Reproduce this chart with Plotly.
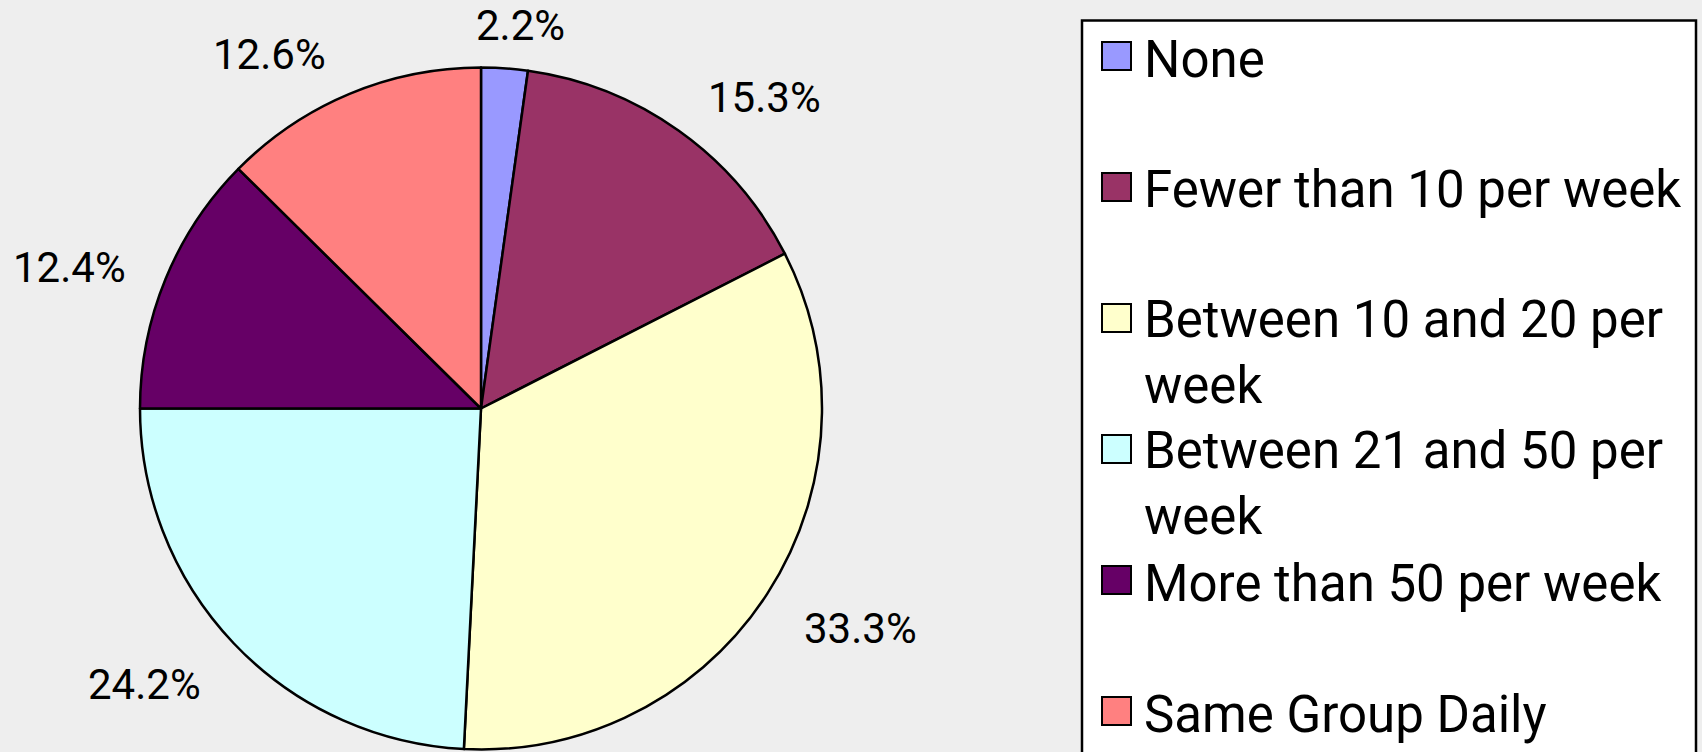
import math
import plotly.graph_objects as go

categories = ["None", "Fewer than 10 per week", "Between 10 and 20 per week",
              "Between 21 and 50 per week", "More than 50 per week", "Same Group Daily"]
legend_lines = ["None", "Fewer than 10 per week", "Between 10 and 20 per<br>week",
                "Between 21 and 50 per<br>week", "More than 50 per week", "Same Group Daily"]
values = [2.2, 15.3, 33.3, 24.2, 12.4, 12.6]
colors = ["#9999FF", "#993366", "#FFFFCC", "#CCFFFF", "#660066", "#FF8080"]

W, H = 1702, 752
cx, cy, r = 481, 408.5, 341

fig = go.Figure(go.Pie(
    labels=categories, values=values, sort=False, direction="clockwise", rotation=0,
    marker=dict(colors=colors, line=dict(color="black", width=2.5)),
    textinfo="none", showlegend=False, hoverinfo="label+percent",
    domain=dict(x=[(cx - r) / W, (cx + r) / W], y=[1 - (cy + r) / H, 1 - (cy - r) / H]),
))

annotations = []
# percentage labels placed outside each slice at its mid-angle
total = sum(values)
cum = 0.0
for v in values:
    frac = (cum + v / 2) / total
    cum += v
    th = 2 * math.pi * frac
    ux, uy = math.sin(th), -math.cos(th)
    sx = math.copysign(min(1.0, 3 * abs(ux)), ux)
    px = cx + (r + 30) * ux + 68 * sx
    py = cy + (r + 30) * uy + 20 * uy + 7
    annotations.append(dict(xref="paper", yref="paper", x=px / W, y=1 - py / H,
                            xanchor="center", yanchor="middle", showarrow=False,
                            text=f"{v:.1f}%", font=dict(family="Roboto", size=42, color="black")))

shapes = [dict(type="rect", xref="paper", yref="paper",
               x0=1082 / W, x1=1696 / W, y0=-0.05, y1=1 - 20.5 / H,
               fillcolor="white", line=dict(color="black", width=2.5), layer="below")]
row0, step = 56, 131
for i, (lab, col) in enumerate(zip(legend_lines, colors)):
    yc = row0 + step * i
    shapes.append(dict(type="rect", xref="paper", yref="paper",
                       x0=1102 / W, x1=1131 / W, y0=1 - (yc + 14) / H, y1=1 - (yc - 14) / H,
                       fillcolor=col, line=dict(color="black", width=2)))
    nlines = lab.count("<br>") + 1
    ty = yc + 3 if nlines == 1 else yc + 34
    annotations.append(dict(xref="paper", yref="paper", x=1142 / W, y=1 - ty / H,
                            xanchor="left", yanchor="middle", showarrow=False, align="left",
                            text=lab, font=dict(family="Roboto", size=51, color="black")))

fig.update_layout(
    width=W, height=H, margin=dict(l=0, r=0, t=0, b=0),
    paper_bgcolor="#EEEEEE", plot_bgcolor="#EEEEEE",
    shapes=shapes, annotations=annotations,
)
fig.write_html("out.html", config={"displayModeBar": False},
               post_script="document.body.style.margin='0';document.body.style.background='#EEEEEE';")
